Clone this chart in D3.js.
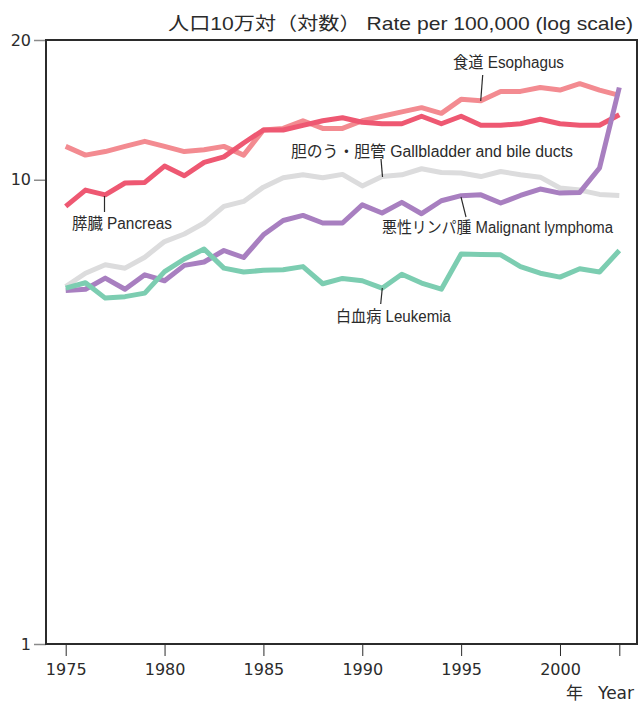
<!DOCTYPE html>
<html><head><meta charset="utf-8">
<script src="https://cdn.jsdelivr.net/npm/d3@7"></script>
<style>
html,body{margin:0;padding:0;background:#fff;overflow:hidden;}
svg{display:block;}
text{fill:#2b2b2b;}
</style></head>
<body>
<script>
const years = d3.range(1975, 2004);
const esophagus = [11.8,11.3,11.5,11.8,12.1,11.8,11.5,11.6,11.8,11.3,12.8,12.9,13.4,12.9,12.9,13.4,13.7,14.0,14.3,13.9,14.9,14.8,15.5,15.5,15.8,15.6,16.1,15.6,15.2];
const pancreas = [8.76,9.5,9.28,9.84,9.87,10.7,10.2,10.9,11.2,12.0,12.8,12.8,13.1,13.4,13.6,13.3,13.2,13.2,13.7,13.2,13.7,13.1,13.1,13.2,13.5,13.2,13.1,13.1,13.8];
const gallbladder = [5.89,6.29,6.56,6.45,6.81,7.36,7.64,8.07,8.76,8.98,9.64,10.1,10.25,10.1,10.27,9.7,10.16,10.25,10.56,10.37,10.34,10.16,10.42,10.25,10.13,9.6,9.5,9.3,9.25];
const lymphoma = [5.77,5.81,6.14,5.81,6.24,6.06,6.54,6.65,7.04,6.80,7.61,8.17,8.38,8.07,8.07,8.83,8.48,8.94,8.45,9.01,9.24,9.28,8.91,9.25,9.55,9.36,9.39,10.6,15.8];
const leukemia = [5.84,6.0,5.56,5.60,5.70,6.34,6.75,7.09,6.45,6.33,6.38,6.40,6.50,5.97,6.13,6.06,5.84,6.26,5.99,5.81,6.92,6.90,6.89,6.50,6.29,6.17,6.43,6.33,7.04];
const xTicks = [1975,1980,1985,1990,1995,2000,2003];
const xTickLabels = ["1975","1980","1985","1990","1995","2000",""];
const yTicks = [1,10,20];
const seriesNames = ["胆のう・胆管 Gallbladder and bile ducts","食道 Esophagus","膵臓 Pancreas","悪性リンパ腫 Malignant lymphoma","白血病 Leukemia"];
const seriesColors = ["#dcdcdd","#f38b91","#ee5872","#a87fc0","#7ccdb1"];
const titleText = "人口10万対（対数） Rate per 100,000 (log scale)";
const xTitleJa = "年";
const xTitleEn = "Year";

const W = 641, H = 702;
const frame = {left:46, right:637, top:40, bottom:644};
const svg = d3.select("body").append("svg").attr("width", W).attr("height", H);
const FONT = "'Liberation Sans','Noto Sans CJK JP',sans-serif";

const x = d3.scaleLinear().domain([1975, 2003]).range([65.7, 619.3]);
const y = d3.scaleLog().domain([1, 20]).range([frame.bottom, frame.top]);

// title
svg.append("text").attr("x", 168).attr("y", 30)
  .attr("font-family", FONT).attr("font-size", 18.5)
  .attr("textLength", 465).attr("lengthAdjust", "spacingAndGlyphs")
  .text(titleText);

// y axis ticks
const yAxis = d3.axisLeft(y).tickValues(yTicks).tickFormat(d3.format("d")).tickSize(12).tickPadding(3);
const gy = svg.append("g").attr("transform", `translate(${frame.left},0)`).call(yAxis);
gy.select(".domain").remove();
gy.selectAll(".tick line").attr("stroke", "#8a8a8a").attr("stroke-width", 1.5);
gy.selectAll(".tick text").attr("font-family", "'DejaVu Sans',sans-serif").attr("font-size", 16).attr("fill", "#2b2b2b");

// x axis ticks
const xAxis = d3.axisBottom(x).tickValues(xTicks).tickFormat((d, i) => xTickLabels[i]).tickSize(12).tickPadding(8);
const gx = svg.append("g").attr("transform", `translate(0,${frame.bottom})`).call(xAxis);
gx.select(".domain").remove();
gx.selectAll(".tick line").attr("stroke", "#2b2b2b").attr("stroke-width", 1);
gx.selectAll(".tick text").attr("font-family", "'DejaVu Sans',sans-serif").attr("font-size", 16).attr("fill", "#2b2b2b");

// frame
svg.append("rect").attr("x", frame.left).attr("y", frame.top)
  .attr("width", frame.right - frame.left).attr("height", frame.bottom - frame.top)
  .attr("fill", "none").attr("stroke", "#2b2b2b").attr("stroke-width", 2);

// x title
svg.append("text").attr("x", 566).attr("y", 699)
  .attr("font-family", FONT).attr("font-size", 17).text(xTitleJa);
svg.append("text").attr("x", 598).attr("y", 699)
  .attr("font-family", "'DejaVu Sans',sans-serif").attr("font-size", 17).text(xTitleEn);

// lines (drawing order: gallbladder, esophagus, pancreas, lymphoma, leukemia)
const seriesData = [gallbladder, esophagus, pancreas, lymphoma, leukemia];
const line = d3.line().x((d, i) => x(years[i])).y(d => y(d));
svg.append("g").selectAll("path").data(seriesData).join("path")
  .attr("d", line)
  .attr("fill", "none")
  .attr("stroke", (d, i) => seriesColors[i])
  .attr("stroke-width", 5)
  .attr("stroke-linejoin", "round");

// labels with leader lines
const labels = [
  {name: seriesNames[1], tx: 453, ty: 68, w: 111, l: [[482.7,75],[480.7,101]]},
  {name: seriesNames[0], tx: 291, ty: 157, w: 282, l: [[381,159],[382.5,177]]},
  {name: seriesNames[2], tx: 72, ty: 228.5, w: 100, l: [[104.5,196],[104.5,212]]},
  {name: seriesNames[3], tx: 382, ty: 233, w: 231, l: [[461,197],[466,217]]},
  {name: seriesNames[4], tx: 336, ty: 322, w: 115, l: [[382.3,288],[380.7,304]]}
];
const lg = svg.append("g");
labels.forEach(L => {
  lg.append("line").attr("x1", L.l[0][0]).attr("y1", L.l[0][1])
    .attr("x2", L.l[1][0]).attr("y2", L.l[1][1])
    .attr("stroke", "#2b2b2b").attr("stroke-width", 1.2);
  lg.append("text").attr("x", L.tx).attr("y", L.ty)
    .attr("font-family", FONT).attr("font-size", 16)
    .attr("textLength", L.w).attr("lengthAdjust", "spacingAndGlyphs")
    .text(L.name);
});
</script>
</body></html>
